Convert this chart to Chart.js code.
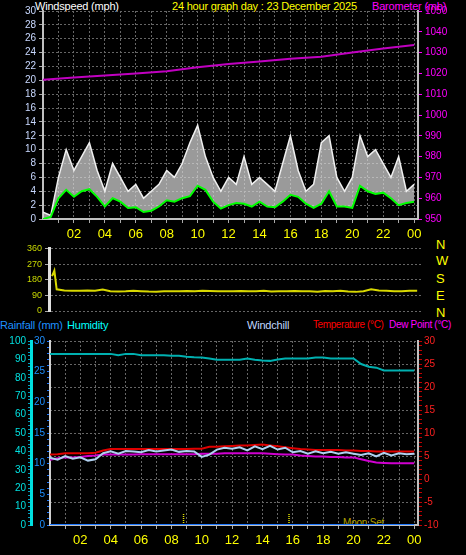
<!DOCTYPE html>
<html>
<head>
<meta charset="utf-8">
<script src="https://cdn.jsdelivr.net/npm/chart.js@4.4.1/dist/chart.umd.min.js"></script>
<style>
  body { margin: 0; background: #000; width: 466px; height: 555px; overflow: hidden; position: relative; font-family: "Liberation Sans", Arial, sans-serif; }
  canvas { position: absolute; left: 0; }
  .lbl { position: absolute; font-size: 11px; white-space: nowrap; line-height: 12px; letter-spacing: -0.2px; }
  .cmp { position: absolute; left: 436px; color: #ffff00; font-size: 13px; line-height: 14px; }
</style>
</head>
<body>
<div class="lbl" style="left:35px;top:0px;color:#fff">Windspeed (mph)</div>
<div class="lbl" style="left:172px;top:0px;color:#ffff00">24 hour graph day : 23 December 2025</div>
<div class="lbl" style="left:372px;top:0px;color:#ff00ff">Barometer (mb)</div>
<div class="lbl" style="left:0px;top:319px;color:#1e90ff">Rainfall (mm)</div>
<div class="lbl" style="left:67px;top:319px;color:#00ffff">Humidity</div>
<div class="lbl" style="left:247px;top:319px;color:#c0d8ff">Windchill</div>
<div class="lbl" style="left:313px;top:319px;color:#ff0000;font-size:10px;letter-spacing:-0.4px">Temperature (°C)</div>
<div class="lbl" style="left:389px;top:319px;color:#ff00ff;font-size:10px;letter-spacing:-0.3px">Dew Point (°C)</div>
<div class="lbl" style="left:343px;top:517px;color:#b0a000;font-size:10px">Moon Set</div>
<div class="cmp" style="top:238px">N</div>
<div class="cmp" style="top:254px">W</div>
<div class="cmp" style="top:272px">S</div>
<div class="cmp" style="top:289px">E</div>
<div class="cmp" style="top:306px">N</div>

<canvas id="wind" width="466" height="245" style="top:0"></canvas>
<canvas id="dir" width="466" height="80" style="top:240px"></canvas>
<canvas id="temp" width="466" height="225" style="top:330px"></canvas>

<script>
// half-hour steps, 00:00 .. 24:00
const hours = [];
for (let i = 0; i <= 48; i++) hours.push(i / 2);

const windAvg = [0, 0.3, 3, 4.2, 3.2, 4, 4.3, 3.2, 1.8, 3, 2.5, 1.6, 1.7, 1, 1.2, 1.8, 2.7, 2.5, 3, 3.3, 4.8, 4.2, 2.5, 1.5, 2, 2.3, 2.2, 1.8, 2.5, 1.8, 1.7, 2.5, 3.5, 3.2, 2.2, 1.6, 2.2, 4, 1.8, 1.8, 1.6, 4.8, 4, 3.6, 3.8, 3, 2, 2.3, 2.5];
const windGust = [1, 0.5, 6, 10, 7, 9, 11, 7, 4, 8, 6, 4, 5, 3, 4, 5, 7, 6, 8, 11, 13.5, 9, 6, 4, 6, 5, 9, 5, 6, 5, 4, 8, 12, 7, 4, 5, 11, 12, 6, 4, 6, 12, 9, 10, 8, 6, 9, 4, 5];
const baroHours = [0, 2, 4, 6, 8, 10, 12, 14, 16, 18, 20, 22, 24];
const baro = [1017, 1018, 1019, 1020, 1021, 1023, 1024.5, 1025.7, 1027, 1028, 1030, 1032, 1033.7];

const windDir = [200, 125, 118, 117, 116, 118, 117, 124, 114, 112, 113, 116, 114, 112, 111, 113, 113, 114, 115, 114, 116, 115, 114, 113, 114, 115, 113, 114, 116, 112, 114, 113, 115, 114, 113, 111, 115, 114, 116, 112, 110, 114, 125, 118, 116, 114, 113, 117, 116];

const humidity = [93, 93, 93, 93, 93, 93, 93, 93, 93, 92.2, 93, 93, 92.3, 92.3, 92.3, 92.3, 92, 92, 91.5, 91.2, 91, 90.5, 89.8, 89.8, 89.8, 89.8, 90.5, 89.8, 89.4, 89.2, 90, 90.5, 90.5, 90.5, 90.5, 91, 91, 90.5, 90.5, 90.5, 90.5, 87.5, 86, 85.5, 84, 84, 84, 84, 84];
const temperature = [5.3, 5.4, 5.6, 5.6, 5.6, 5.6, 5.7, 6.2, 6.5, 6.5, 6.5, 6.5, 6.5, 6.5, 6.5, 6.5, 6.5, 6.5, 6.5, 6.6, 6.6, 7, 7, 7.1, 7.2, 7.3, 7.3, 7.4, 7.5, 7.3, 7.1, 6.9, 6.7, 6.5, 6.4, 6.3, 6.3, 6.3, 6.3, 6.2, 6.2, 6.1, 6.1, 6.0, 6.0, 6.0, 6.0, 6.0, 6.0];
const dewPoint = [4.2, 4.5, 4.7, 4.7, 4.8, 5, 5.1, 5.3, 5.3, 5.3, 5.3, 5.3, 5.4, 5.4, 5.4, 5.4, 5.4, 5.4, 5.4, 5.4, 5.5, 5.5, 5.5, 5.6, 5.6, 5.6, 5.6, 5.6, 5.6, 5.5, 5.4, 5.3, 5.3, 5.1, 5.0, 4.9, 4.9, 4.8, 4.8, 4.7, 4.7, 4.3, 3.9, 3.6, 3.5, 3.4, 3.4, 3.4, 3.4];
const windChill = [4.6, 4.2, 5.0, 4.4, 4.7, 4.0, 4.3, 5.6, 6.0, 5.5, 6.1, 6.0, 5.8, 6.3, 6.0, 6.2, 6.4, 5.9, 6.1, 6.0, 4.8, 5.3, 6.4, 6.8, 6.6, 6.9, 6.2, 7.1, 6.5, 7.2, 6.4, 6.8, 5.8, 6.1, 5.5, 6.0, 5.6, 5.9, 5.5, 5.8, 5.5, 5.2, 5.6, 4.9, 5.7, 5.1, 5.6, 5.4, 5.5];
const rainfall = [0, 0];
const rainHours = [0, 24];
const sunHours = [8.8, 15.75];

const pts = (xs, ys) => xs.map((x, i) => ({ x: x, y: ys[i] }));
const gridCol = '#666';
const hourLabel = v => (v > 0 && v % 2 === 0) ? String(v % 24).padStart(2, '0') : '';
const stepTicks = (from, to, step) => s => { s.ticks = []; for (let v = from; v <= to; v += step) s.ticks.push({ value: v }); };

function xAxis(show) {
  return {
    type: 'linear', min: 0, max: 24.25,
    afterBuildTicks: stepTicks(1, 24, 1),
    grid: { color: gridCol, tickColor: '#aaa', tickLength: 4 },
    border: { color: '#c0c0c0', width: 2, dash: [2, 2] },
    ticks: { display: show, color: '#ffff00', font: { size: 13 }, maxRotation: 0, autoSkip: false, padding: 4, callback: hourLabel },
    afterFit: s => { s.height = show ? 26 : 0; }
  };
}
const base = { responsive: false, animation: false, devicePixelRatio: 1, plugins: { legend: { display: false }, tooltip: { enabled: false } } };

new Chart(document.getElementById('wind'), {
  type: 'line',
  data: { datasets: [
    { data: pts(hours, windAvg), borderColor: '#00ff00', borderWidth: 2, pointRadius: 0, yAxisID: 'y', order: 1 },
    { data: pts(hours, windGust), borderColor: '#f0f0f0', borderWidth: 1.5, pointRadius: 0, fill: '-1', backgroundColor: 'rgba(220,220,220,0.7)', yAxisID: 'y', order: 2 },
    { data: pts(baroHours, baro), borderColor: '#c000c0', borderWidth: 2, pointRadius: 0, yAxisID: 'yb', order: 0 }
  ] },
  options: { ...base,
    layout: { padding: { top: 11, left: 0, right: 0, bottom: 0 } },
    scales: {
      x: xAxis(true),
      y: { position: 'left', min: 0, max: 30,
        afterBuildTicks: stepTicks(0, 30, 2),
        ticks: { autoSkip: false, color: '#c8d8ff', font: { size: 10 }, padding: 3 },
        grid: { color: gridCol, tickColor: '#aaa', tickLength: 4 }, border: { color: '#c0c0c0', width: 2, dash: [2, 2] },
        afterFit: s => { s.width = 43; } },
      yb: { position: 'right', min: 950, max: 1050,
        afterBuildTicks: stepTicks(950, 1050, 10),
        ticks: { autoSkip: false, color: '#ff00ff', font: { size: 10 }, padding: 3, callback: v => String(v) },
        grid: { drawOnChartArea: false, tickColor: '#ff00ff', tickLength: 4 }, border: { color: '#c0c0c0', width: 2 },
        afterFit: s => { s.width = 48; } }
    }
  }
});

new Chart(document.getElementById('dir'), {
  type: 'line',
  data: { datasets: [
    { data: [{ x: 0.2, y: 200 }, { x: 0.35, y: 232 }].concat(pts(hours.slice(1), windDir.slice(1))), borderColor: '#d8d800', borderWidth: 2, pointRadius: 0, yAxisID: 'y' }
  ] },
  options: { ...base,
    layout: { padding: { top: 6, left: 0, right: 45, bottom: 9 } },
    scales: {
      x: { type: 'linear', min: 0, max: 24.25, display: false },
      y: { position: 'left', min: 0, max: 360,
        afterBuildTicks: stepTicks(0, 360, 90),
        ticks: { autoSkip: false, color: '#c8d800', font: { size: 9 }, padding: 3 },
        grid: { color: gridCol, tickColor: '#aaa', tickLength: 4 }, border: { color: '#e0e0e0', width: 3, dash: [2, 2] },
        afterFit: s => { s.width = 49; } }
    }
  }
});

new Chart(document.getElementById('temp'), {
  type: 'line',
  data: { datasets: [
    { data: pts(hours, humidity), borderColor: '#00b0b0', borderWidth: 2, pointRadius: 0, yAxisID: 'yh' },
    { data: pts(hours, windChill), borderColor: '#b0d0f0', borderWidth: 2, pointRadius: 0, yAxisID: 'yt' },
    { data: pts(hours, temperature), borderColor: '#e00000', borderWidth: 2, pointRadius: 0, yAxisID: 'yt' },
    { data: pts(hours, dewPoint), borderColor: '#d000d0', borderWidth: 2, pointRadius: 0, yAxisID: 'yt' },
    { data: pts(rainHours, rainfall), borderColor: '#1e78ff', borderWidth: 2, pointRadius: 0, yAxisID: 'yr' },
    { data: [{ x: sunHours[0], y: -10 }, { x: sunHours[0], y: -7.4 }], borderColor: '#e0e000', borderWidth: 1.5, borderDash: [1, 1], pointRadius: 0, yAxisID: 'yt' },
    { data: [{ x: sunHours[1], y: -10 }, { x: sunHours[1], y: -7.4 }], borderColor: '#e0e000', borderWidth: 1.5, borderDash: [1, 1], pointRadius: 0, yAxisID: 'yt' }
  ] },
  options: { ...base,
    layout: { padding: { top: 11, left: 0, right: 0, bottom: 0 } },
    scales: {
      x: Object.assign(xAxis(true), { afterFit: s => { s.height = 30; } }),
      yh: { position: 'left', weight: 1, min: 0, max: 100,
        afterBuildTicks: stepTicks(0, 100, 2),
        ticks: { autoSkip: false, color: '#00e0e0', font: { size: 10 }, padding: 2, callback: v => v % 10 === 0 ? v : '' },
        grid: { drawOnChartArea: false, tickColor: '#00a0c0', tickLength: 3 }, border: { color: '#00e0e0', width: 3 },
        afterFit: s => { s.width = 31; } },
      yr: { position: 'left', weight: 0, min: 0, max: 30,
        afterBuildTicks: stepTicks(0, 30, 1),
        ticks: { autoSkip: false, color: '#1e90ff', font: { size: 10 }, padding: 2, callback: v => v % 5 === 0 ? v : '' },
        grid: { drawOnChartArea: false, tickColor: '#1e78ff', tickLength: 3 }, border: { color: '#d0d0d0', width: 2 },
        afterFit: s => { s.width = 19; } },
      yt: { position: 'right', min: -10, max: 30,
        afterBuildTicks: stepTicks(-10, 30, 1),
        ticks: { autoSkip: false, color: '#ff2020', font: { size: 10 }, padding: 2, callback: v => v % 5 === 0 ? v : '' },
        grid: { color: c => c.tick && c.tick.value % 5 === 0 ? gridCol : 'transparent', tickColor: '#c00000', tickLength: 4 },
        border: { color: '#c0c0c0', width: 2, dash: [2, 2] },
        afterFit: s => { s.width = 48; } }
    }
  }
});
</script>
</body>
</html>
